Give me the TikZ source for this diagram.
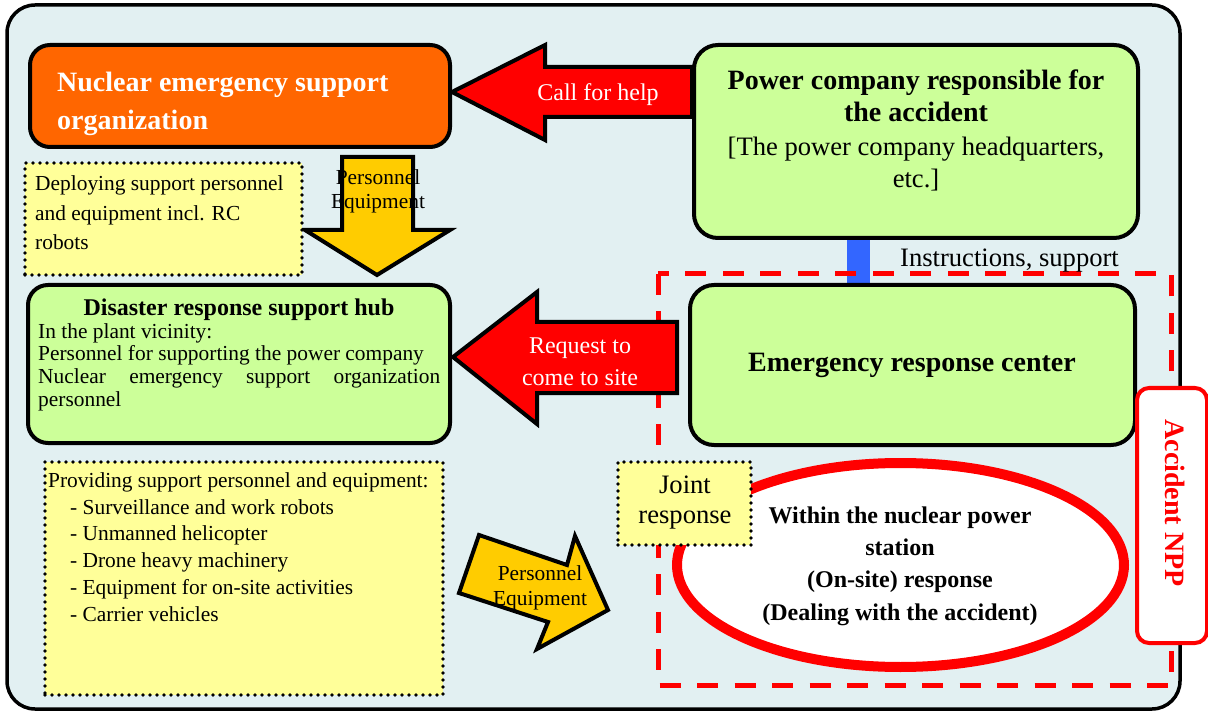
\documentclass[tikz,border=0pt]{standalone}
\usepackage{fontspec}
\setmainfont{Liberation Serif}
\usetikzlibrary{shapes.geometric}
\pgfdeclarelayer{bgl}
\pgfdeclarelayer{connl}
\pgfdeclarelayer{dashl}
\pgfdeclarelayer{arrl}
\pgfsetlayers{bgl,connl,dashl,arrl,main}
\definecolor{bgc}{HTML}{E2F0F2}
\definecolor{orgc}{HTML}{FF6600}
\definecolor{greenc}{HTML}{CCFF99}
\definecolor{yelc}{HTML}{FFFF99}
\definecolor{arrc}{HTML}{FFCC00}
\definecolor{redc}{HTML}{FF0000}
\definecolor{bluec}{HTML}{3366FF}
\newcommand{\fsz}[2]{\fontsize{#1}{#2}\selectfont}
\tikzset{
  boxbase/.style={draw=black, line width=4pt, rectangle, inner sep=0pt},
  greenbox/.style={boxbase, fill=greenc, rounded corners=24pt},
  orgbox/.style={boxbase, fill=orgc, rounded corners=20pt},
  dotbox/.style={rectangle, fill=yelc, draw=black, line width=3.6pt, dash pattern=on 0pt off 7pt, line cap=round, inner sep=0pt},
  blockarrow/.style={draw=black, line width=4pt, line join=miter, miter limit=10},
  txt/.style={inner sep=0pt, text=black},
}
\begin{document}
\begin{tikzpicture}[x=1pt,y=-1pt]
\useasboundingbox (0,0) rectangle (1208,711);
\begin{pgfonlayer}{bgl}
\fill[white] (0,0) rectangle (1208,711);
\draw[line width=3.5pt, fill=bgc, rounded corners=28pt] (7,5) rectangle (1180,709);
\end{pgfonlayer}

% boxes
\node[orgbox, minimum width=420pt, minimum height=102pt] (org) at (240,96) {};
\node[greenbox, minimum width=444pt, minimum height=193pt] (power) at (916,141.5) {};
\node[greenbox, minimum width=445pt, minimum height=160pt] (erc) at (912.5,365) {};
\node[greenbox, minimum width=422pt, minimum height=158pt, rounded corners=20pt] (hub) at (239,364) {};

% blue connector
\coordinate (bx) at (858.5,0);
\begin{pgfonlayer}{connl}
\draw[bluec, line width=23pt] (power.south -| bx) -- (erc.north -| bx);
\end{pgfonlayer}
\node[txt, font=\fsz{26.6}{30}, anchor=center] (instr) at (1009.5,261) {Instructions, support};

% accident NPP dashed region
\begin{pgfonlayer}{dashl}
\draw[redc, line width=5pt, dash pattern=on 21pt off 16.5pt] (658,274) rectangle (1171,685);
\end{pgfonlayer}
\node[txt, font=\fsz{28}{32}\bfseries] (erctxt) at (912,365) {Emergency response center};

% ellipse
\node[ellipse, draw=redc, line width=10pt, fill=white, minimum width=447pt, minimum height=204pt, inner sep=0pt] (onsite) at (900.5,565) {};
\node[txt, font=\fsz{24}{32.3}\bfseries, align=center] (onsitetxt) at (900,566) {Within the nuclear power\\station\\(On-site) response\\(Dealing with the accident)};

% joint response
\node[dotbox, minimum width=133pt, minimum height=83pt] (joint) at (684.5,503.5) {};
\node[txt, font=\fsz{26.6}{30}, align=center] (jointtxt) at (685,503) {Joint\\response};

% accident NPP label box
\node[draw=redc, line width=4pt, fill=white, rounded corners=12pt, minimum width=70pt, minimum height=255pt, inner sep=0pt] (npp) at (1172,515.5) {};
\node[txt, text=redc, font=\fsz{28}{32}\bfseries, rotate=-90] (npptxt) at (1175,503) {Accident NPP};

% org text
\node[txt, text=white, font=\fsz{28}{38}\bfseries, align=left, anchor=west] (orgtxt) at (57,104) {Nuclear emergency support\\organization};

% power text
\node[txt, align=center, font=\fsz{28}{32}] (powertxt) at (916,130.5) {{\bfseries Power company responsible for}\\{\bfseries the accident}\\[1.5pt]{\fontsize{26.6}{31}\selectfont [The power company headquarters,}\\{\fontsize{26.6}{31}\selectfont etc.]}};

% hub text
\node[txt, font=\fsz{24}{26}\bfseries] (hubtitle) at (239,310) {Disaster response support hub};
\node[txt, font=\fsz{21.4}{22.7}, align=left, anchor=north west] (hubtxt) at (38,323) {In the plant vicinity:\\Personnel for supporting the power company\\\makebox[402pt][s]{Nuclear emergency support organization}\\personnel};

% deploying box
\node[dotbox, minimum width=277pt, minimum height=112pt] (deploy) at (163.5,219) {};
\node[txt, font=\fsz{21.4}{29.5}, align=left, anchor=west] (deploytxt) at (35,213) {Deploying support personnel\\and equipment incl. RC\\robots};

% providing box
\node[dotbox, minimum width=398pt, minimum height=233pt] (provide) at (244,578.5) {};
\node[txt, font=\fsz{21.4}{26.8}, align=left, anchor=west] (providetxt) at (48,547) {Providing support personnel and equipment:\\\hspace*{22pt}- Surveillance and work robots\\\hspace*{22pt}- Unmanned helicopter\\\hspace*{22pt}- Drone heavy machinery\\\hspace*{22pt}- Equipment for on-site activities\\\hspace*{22pt}- Carrier vehicles};

% block arrows
\begin{pgfonlayer}{arrl}
\draw[blockarrow, fill=redc] (452,92) -- (545,45) -- (545,67) -- (power.west |- 0,67) -- (power.west |- 0,117) -- (545,117) -- (545,140) -- cycle;
\draw[blockarrow, fill=arrc] (342,157) -- (413,157) -- (413,230) -- (450,230) -- (377,275) -- (305,230) -- (342,230) -- cycle;
\draw[blockarrow, fill=redc] (453,357) -- (537,292) -- (537,322) -- (677,322) -- (677,393) -- (537,393) -- (537,424) -- cycle;
\draw[blockarrow, fill=arrc] (479,535) -- (567,565) -- (575,536) -- (608,610) -- (537,649) -- (548,622) -- (459,593) -- cycle;
\end{pgfonlayer}
\node[txt, text=white, font=\fsz{24}{32}] (calltxt) at (598,95) {Call for help};
\node[txt, font=\fsz{21.4}{23.5}, align=center] (downtxt) at (378,191.5) {Personnel\\Equipment};
\node[txt, text=white, font=\fsz{24}{32}, align=center] (reqtxt) at (580,362) {Request to\\come to site};
\node[txt, font=\fsz{21.4}{25}, align=center] (diagtxt) at (540,587.5) {Personnel\\Equipment};
\end{tikzpicture}
\end{document}
